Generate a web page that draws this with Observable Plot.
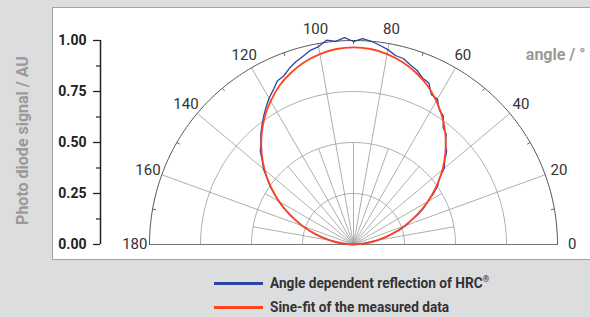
<!DOCTYPE html>
<html><head><meta charset="utf-8">
<script src="https://cdn.jsdelivr.net/npm/d3@7"></script>
<script src="https://cdn.jsdelivr.net/npm/@observablehq/plot@0.6"></script>
<style>
html,body{margin:0;padding:0;background:#dcdddf;}
#wrap{position:relative;width:590px;height:317px;background:#dcdddf;overflow:hidden;font-family:Roboto,"DejaVu Sans Condensed",sans-serif;}
#panel{position:absolute;left:52px;top:7px;width:560px;height:251px;background:#fff;border:1px solid #a3a3a3;border-right:none;}
#chart{position:absolute;left:0;top:0;}
#legend{position:absolute;left:214px;top:271px;}
.row{display:flex;align-items:center;height:24px;}
.sw{width:49px;height:3px;margin-right:7px;flex:none;}
.lab{font-weight:bold;font-size:15px;color:#333;display:inline-block;transform:scaleX(0.91);transform-origin:left center;white-space:nowrap;}
.lab sup{font-size:9px;vertical-align:6px;line-height:0;}
</style></head>
<body>
<div id="wrap"><div id="panel"></div><div id="chart"></div>
<div id="legend"></div></div>
<script>
// ---- data ----
const measuredAngles = [0,2.5,5,7.5,10,12.5,15,17.5,20,22.5,25,27.5,30,32.5,35,37.5,40,42.5,45,47.5,50,52.5,55,57.5,60,62.5,65,67.5,70,72.5,75,77.5,80,82.5,85,87.5,90,92.5,95,97.5,100,102.5,105,107.5,110,112.5,115,117.5,120,122.5,125,127.5,130,132.5,135,137.5,140,142.5,145,147.5,150,152.5,155,157.5,160,162.5,165,167.5,170,172.5,175,177.5,180];
const measuredSignal = [0,0.02,0.05,0.086,0.121,0.157,0.192,0.237,0.273,0.303,0.348,0.389,0.419,0.465,0.505,0.530,0.581,0.606,0.646,0.667,0.707,0.722,0.768,0.783,0.823,0.828,0.874,0.884,0.909,0.924,0.944,0.949,0.970,0.985,1.0,1.01,0.995,1.015,1.0,1.01,0.985,0.975,0.955,0.939,0.919,0.894,0.884,0.853,0.828,0.798,0.768,0.737,0.707,0.672,0.646,0.606,0.576,0.535,0.500,0.460,0.424,0.384,0.345,0.303,0.268,0.227,0.192,0.152,0.116,0.083,0.051,0.024,0];
const fitAngles = [0,5,10,15,20,25,30,35,40,45,50,55,60,65,70,75,80,85,90,95,100,105,110,115,120,125,130,135,140,145,150,155,160,165,170,175,180];
const fitSignal = [0,0.052,0.118,0.191,0.267,0.343,0.420,0.496,0.569,0.637,0.701,0.760,0.812,0.859,0.896,0.926,0.948,0.962,0.966,0.962,0.948,0.926,0.896,0.859,0.812,0.760,0.701,0.637,0.569,0.496,0.420,0.343,0.267,0.191,0.118,0.052,0];
const angleTicks = [0,20,40,60,80,100,120,140,160,180];
const minorAngles = [10,30,50,70,90,110,130,150,170];
const ringRadii = [0.25,0.5,0.75];
const yTicks = [0,0.25,0.5,0.75,1.0];
const yTickLabels = ["0.00","0.25","0.50","0.75","1.00"];
const yMinorTicks = [0.125,0.375,0.625,0.875];
const yTitle = "Photo diode signal / AU";
const angleTitle = "angle / °";
const seriesNames = ["Angle dependent reflection of HRC","Sine-fit of the measured data"];
const seriesMarks = ["®",""];
const seriesColors = ["#2a45a3","#ff4422"];

// ---- geometry helpers ----
const rad = a => a * Math.PI / 180;
const px = (r, a) => r * Math.cos(rad(a));
const py = (r, a) => r * Math.sin(rad(a));
const K = 204; // px per unit
const xDom = [-253 / K, 237 / K];
const yDom = [-18 / K, 226 / K];

const measured = measuredAngles.map((a, i) => ({a, r: measuredSignal[i]}));
const fit = fitAngles.map((a, i) => ({a, r: fitSignal[i]}));
const ringPts = ringRadii.flatMap(r => d3.range(0, 181, 2).map(a => ({r, a})));
const outerPts = d3.range(0, 181, 1).map(a => ({r: 1, a}));
const font = 'Roboto,"DejaVu Sans Condensed",sans-serif';

const chart = Plot.plot({
  width: 590, height: 262,
  marginLeft: 100, marginRight: 0, marginTop: 18, marginBottom: 0,
  style: {background: "transparent", fontFamily: font, overflow: "visible"},
  x: {domain: xDom, axis: null},
  y: {domain: yDom},
  marks: [
    Plot.line(ringPts, {x: d => px(d.r, d.a), y: d => py(d.r, d.a), z: "r", stroke: "#9a9a9a", strokeWidth: 0.8}),
    Plot.link(minorAngles, {x1: 0, y1: 0, x2: a => px(0.5, a), y2: a => py(0.5, a), stroke: "#9a9a9a", strokeWidth: 0.8}),
    Plot.link(angleTicks, {x1: 0, y1: 0, x2: a => px(1, a), y2: a => py(1, a), stroke: "#9a9a9a", strokeWidth: 0.8}),
    Plot.link(minorAngles, {x1: a => px(0.983, a), y1: a => py(0.983, a), x2: a => px(1, a), y2: a => py(1, a), stroke: "#555", strokeWidth: 0.9}),
    Plot.ruleY([0], {x1: -1, x2: 1, stroke: "#777", strokeWidth: 1}),
    Plot.line(outerPts, {x: d => px(d.r, d.a), y: d => py(d.r, d.a), stroke: "#555", strokeWidth: 1}),
    Plot.text(angleTicks, {x: a => px(1.072, a), y: a => py(1.072, a), text: a => String(a), fontSize: 15, fill: "#333", ariaLabel: "angle-labels"}),
    Plot.line(measured, {x: d => px(d.r, d.a), y: d => py(d.r, d.a), stroke: seriesColors[0], strokeWidth: 1.3}),
    Plot.line(fit, {x: d => px(d.r, d.a), y: d => py(d.r, d.a), stroke: seriesColors[1], strokeWidth: 1.8, curve: "catmull-rom"}),
    Plot.ruleX([xDom[0]], {y1: 0, y2: 1, stroke: "#222", strokeWidth: 1.5}),
    Plot.axisY(yTicks, {tickSize: 7, tickPadding: 7, tickFormat: d => yTickLabels[yTicks.indexOf(d)], label: null, fontSize: 14, fontWeight: "bold", fill: "#222", stroke: "#222", strokeWidth: 1.3}),
    Plot.axisY(yMinorTicks, {tickSize: 4, tickFormat: () => "", label: null, stroke: "#222", strokeWidth: 1.2}),
    Plot.text([yTitle], {text: d => d, frameAnchor: "left", dx: -78, rotate: -90, textAnchor: "middle", fontSize: 16, fontWeight: "bold", fill: "#9a9a9a"}),
    Plot.text([angleTitle], {text: d => d, frameAnchor: "top-right", dx: -5, dy: 30, textAnchor: "end", fontSize: 16, fontWeight: "bold", fill: "#9a9a9a"})
  ]
});
document.getElementById("chart").appendChild(chart);
// condensed look for the angle labels
chart.querySelectorAll('g[aria-label="angle-labels"] text').forEach(t => {
  const w = t.getComputedTextLength();
  t.setAttribute("textLength", (w * 0.84).toFixed(2));
  t.setAttribute("lengthAdjust", "spacingAndGlyphs");
});

const lg = document.getElementById("legend");
seriesNames.forEach((n, i) => {
  const row = document.createElement("div"); row.className = "row";
  const sw = document.createElement("div"); sw.className = "sw"; sw.style.background = seriesColors[i];
  const lab = document.createElement("span"); lab.className = "lab"; lab.textContent = n;
  if (seriesMarks[i]) { const s = document.createElement("sup"); s.textContent = seriesMarks[i]; lab.appendChild(s); }
  row.appendChild(sw); row.appendChild(lab); lg.appendChild(row);
});
</script>
</body></html>
